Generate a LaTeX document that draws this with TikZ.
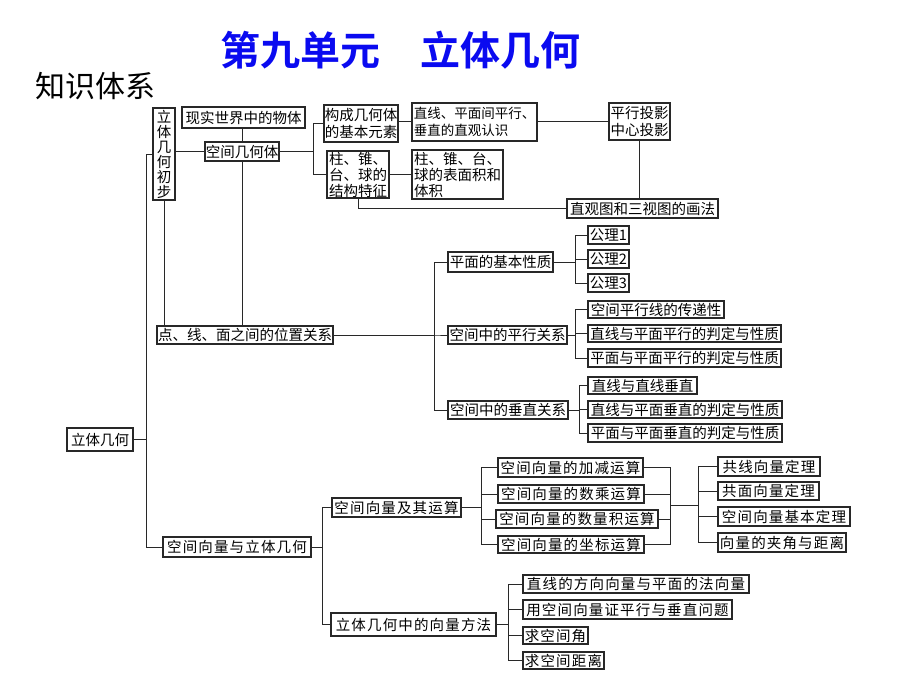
\documentclass[tikz,border=0pt]{standalone}
\usepackage{fontspec}
\setmainfont{Noto Sans CJK SC}[BoldFont={Noto Sans CJK SC Bold}]
\newfontfamily\spc{Noto Sans CJK SC}[LetterSpace=8]
\definecolor{titleblue}{RGB}{10,10,240}
\definecolor{lncol}{RGB}{40,40,40}
\tikzset{
  bx/.style={draw=lncol, line width=1.1pt, inner sep=0.5pt, fill=white,
    font=\fontsize{14.5}{16}\selectfont},
  bxs/.style={bx, font=\spc\fontsize{14.5}{16}\selectfont},
  ln/.style={draw=lncol, line width=1pt}
}
\newcommand\mybox[7][]{\node[bx,#1,minimum width={#5-#3},minimum height={#6-#4}] (#2) at ({(#3+#5)/2},{(#4+#6)/2}) {#7};}
\begin{document}
\begin{tikzpicture}[x=1pt,y=-1pt]
\fill[white] (0,0) rectangle (920,690);
\useasboundingbox (0,0) rectangle (920,690);
\node[text=titleblue, font=\bfseries\fontsize{40}{40}\selectfont] (title) at (400,50) {第九单元　立体几何};
\node[font=\fontsize{30}{30}\selectfont] (zstx) at (95,86) {知识体系};
% top part
\mybox{root}{67}{428}{133}{451}{立体几何}
\mybox[align=center,font=\fontsize{14.5}{15}\selectfont]{chubu}{153}{108}{175}{200}{立\\体\\几\\何\\初\\步}
\mybox{xs}{182}{107}{305}{128}{现实世界中的物体}
\mybox[align=left,font=\fontsize{14.5}{17}\selectfont]{gc}{324}{105}{398}{142}{构成几何体\\的基本元素}
\mybox[align=left]{zz}{327}{151}{389}{198}{柱、锥、\\台、球的\\结构特征}
\mybox[align=left,font=\fontsize{13.5}{17}\selectfont]{zx}{412}{103}{537}{141}{直线、平面间平行、\\垂直的直观认识}
\mybox[align=left,font=\fontsize{14.5}{17}\selectfont]{ty}{609}{103}{670}{140}{平行投影\\中心投影}
\mybox[align=left]{bm}{412}{150}{503}{199}{柱、锥、台、\\球的表面积和\\体积}
\mybox{zg}{567}{199}{718}{218}{直观图和三视图的画法}
\mybox{kj}{205}{142}{279}{161}{空间几何体}
% middle part
\mybox{dxm}{157}{326}{333}{344}{点、线、面之间的位置关系}
\mybox{pm}{448}{252}{553}{272}{平面的基本性质}
\mybox{px}{448}{326}{567}{344}{空间中的平行关系}
\mybox{cz}{448}{401}{568}{419}{空间中的垂直关系}
\mybox{g1}{588}{226}{629}{244}{公理1}
\mybox{g2}{588}{250}{629}{268}{公理2}
\mybox{g3}{588}{274}{629}{292}{公理3}
\mybox{p1}{588}{301}{724}{318}{空间平行线的传递性}
\mybox{p2}{588}{325}{781}{342}{直线与平面平行的判定与性质}
\mybox{p3}{588}{349}{781}{367}{平面与平面平行的判定与性质}
\mybox{c1}{588}{377}{697}{394}{直线与直线垂直}
\mybox{c2}{588}{401}{782}{418}{直线与平面垂直的判定与性质}
\mybox{c3}{588}{424}{782}{442}{平面与平面垂直的判定与性质}
% bottom part
\mybox[bxs]{vg}{163}{537}{311}{557}{空间向量与立体几何}
\mybox[bxs]{ys}{332}{498}{461}{517}{空间向量及其运算}
\mybox[bxs]{ff}{331}{613}{496}{636}{立体几何中的向量方法}
\mybox[bxs]{y1}{498}{458}{643}{477}{空间向量的加减运算}
\mybox[bxs]{y2}{498}{485}{644}{503}{空间向量的数乘运算}
\mybox[bxs]{y3}{496}{510}{658}{528}{空间向量的数量积运算}
\mybox[bxs]{y4}{498}{536}{644}{553}{空间向量的坐标运算}
\mybox[bxs]{t1}{718}{457}{820}{476}{共线向量定理}
\mybox[bxs]{t2}{718}{482}{819}{500}{共面向量定理}
\mybox[bxs]{t3}{718}{507}{850}{526}{空间向量基本定理}
\mybox[bxs]{t4}{718}{533}{846}{552}{向量的夹角与距离}
\mybox[bxs]{f1}{523}{575}{749}{593}{直线的方向向量与平面的法向量}
\mybox[bxs]{f2}{523}{600}{732}{619}{用空间向量证平行与垂直问题}
\mybox[bxs]{f3}{523}{627}{588}{644}{求空间角}
\mybox[bxs]{f4}{523}{652}{604}{669}{求空间距离}
% connectors
\draw[ln] (root.east) -- ++(13,0) |- (chubu.west);
\draw[ln] (root.east) -- ++(13,0) |- (vg.west);
\draw[ln] (kj.west -| chubu.east) -- (kj.west);
\draw[ln] (kj.north) -- (kj.north |- xs.south);
\draw[ln] (kj.south) -- (kj.south |- dxm.north);
\draw[ln] (chubu.south) -- (chubu.south |- dxm.north);
\draw[ln] (kj.east) -- ++(34,0) |- (gc.west);
\draw[ln] (kj.east) -- ++(34,0) |- (zz.west);
\draw[ln] (zx.west -| gc.east) -- (zx.west);
\draw[ln] (zx.east) -- (zx.east -| ty.west);
\draw[ln] (bm.west -| zz.east) -- (bm.west);
\draw[ln] (ty.south) -- (ty.south |- zg.north);
\draw[ln] (zz.south) |- (zg.west);
\foreach \c in {pm,px,cz} \draw[ln] (dxm.east) -- ++(101,0) |- (\c.west);
\foreach \c in {g1,g2,g3} \draw[ln] (pm.east) -- ++(22,0) |- (\c.west);
\foreach \c in {p1,p2,p3} \draw[ln] (px.east) -- ++(8,0) |- (\c.west);
\foreach \c in {c1,c2,c3} \draw[ln] (cz.east) -- ++(11,0) |- (\c.west);
\foreach \c in {ys,ff} \draw[ln] (vg.east) -- ++(11,0) |- (\c.west);
\foreach \c in {y1,y2,y3,y4} \draw[ln] (ys.east) -- ++(20,0) |- (\c.west);
\coordinate (m1) at (670,505);
\coordinate (m2) at (698,505);
\foreach \c in {y1,y2,y3,y4} \draw[ln] (\c.east) -| (m1);
\draw[ln] (m1) -- (m2);
\foreach \c in {t1,t2,t3,t4} \draw[ln] (m2) |- (\c.west);
\foreach \c in {f1,f2,f3,f4} \draw[ln] (ff.east) -- ++(12,0) |- (\c.west);
\end{tikzpicture}
\end{document}
